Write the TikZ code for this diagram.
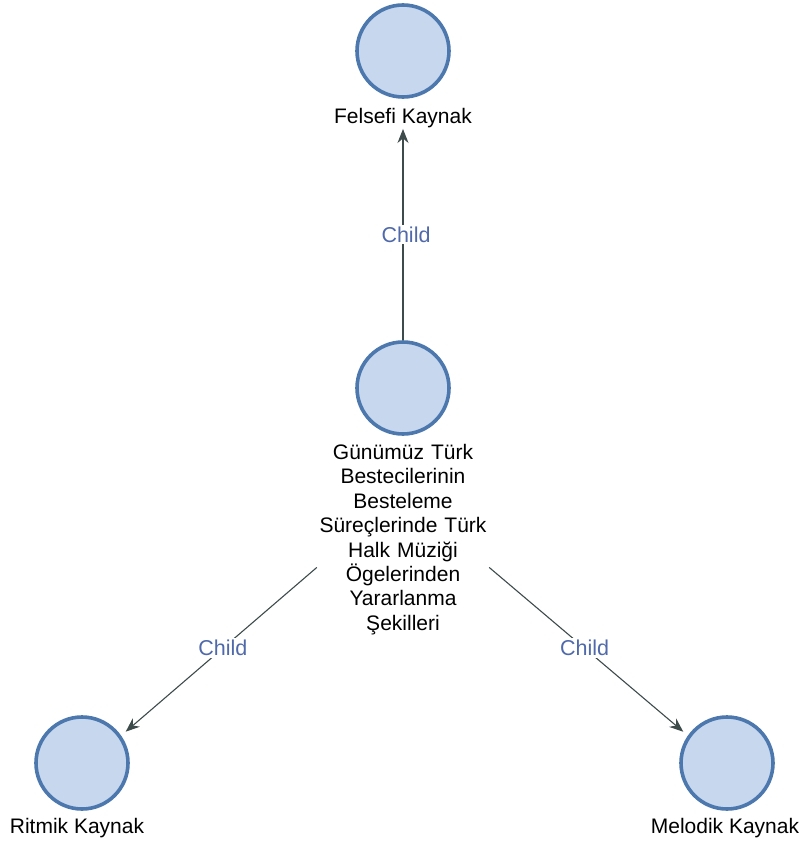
\documentclass[tikz,border=0pt]{standalone}
\usepackage{fontspec}
\setmainfont{Liberation Sans}
\usetikzlibrary{arrows.meta}
\definecolor{nodefill}{HTML}{C6D7EE}
\definecolor{nodeline}{HTML}{4C78AE}
\definecolor{edgecol}{HTML}{3E4B4B}
\definecolor{labcol}{HTML}{4F69AA}
\begin{document}
\begin{tikzpicture}[x=1pt,y=-1pt,
  topic/.style={circle,draw=nodeline,fill=nodefill,line width=3.6pt,minimum size=92pt,inner sep=0pt},
  caption/.style={font=\fontsize{21}{24.4}\selectfont,text=black,inner sep=1pt,align=center},
  rel/.style={draw=edgecol,line width=1.1pt,-{Stealth[length=14pt,width=11pt]}},
  tag/.style={font=\fontsize{21.5}{24}\selectfont,text=labcol,fill=white,inner sep=2pt}]
  \useasboundingbox (0,0) rectangle (808,843);

  % nodes
  \node[topic] (fel) at (403,51) {};
  \node[caption,anchor=north] (fell) at (403,107) {Felsefi Kaynak};

  \node[topic] (cen) at (403,388) {};
  \node[caption,anchor=north,text width=170pt] (cenl) at (403,443)
    {Günümüz Türk\\Bestecilerinin\\Besteleme\\Süreçlerinde Türk\\Halk Müziği\\Ögelerinden\\Yararlanma\\Şekilleri};

  \node[topic] (rit) at (82,763) {};
  \node[caption,anchor=north] (ritl) at (77,817) {Ritmik Kaynak};

  \node[topic] (mel) at (727,763) {};
  \node[caption,anchor=north] (mell) at (725,817) {Melodik Kaynak};

  % connectors
  \draw[rel] (cen.north) -- node[tag,pos=0.5,xshift=3pt] {Child} (fell.south);
  \draw[rel,shorten >=6pt] (cenl.198) -- node[tag,pos=0.48] {Child} (rit.35);
  \draw[rel,shorten >=6pt] (cenl.342) -- node[tag,pos=0.48] {Child} (mel.145);
\end{tikzpicture}
\end{document}
